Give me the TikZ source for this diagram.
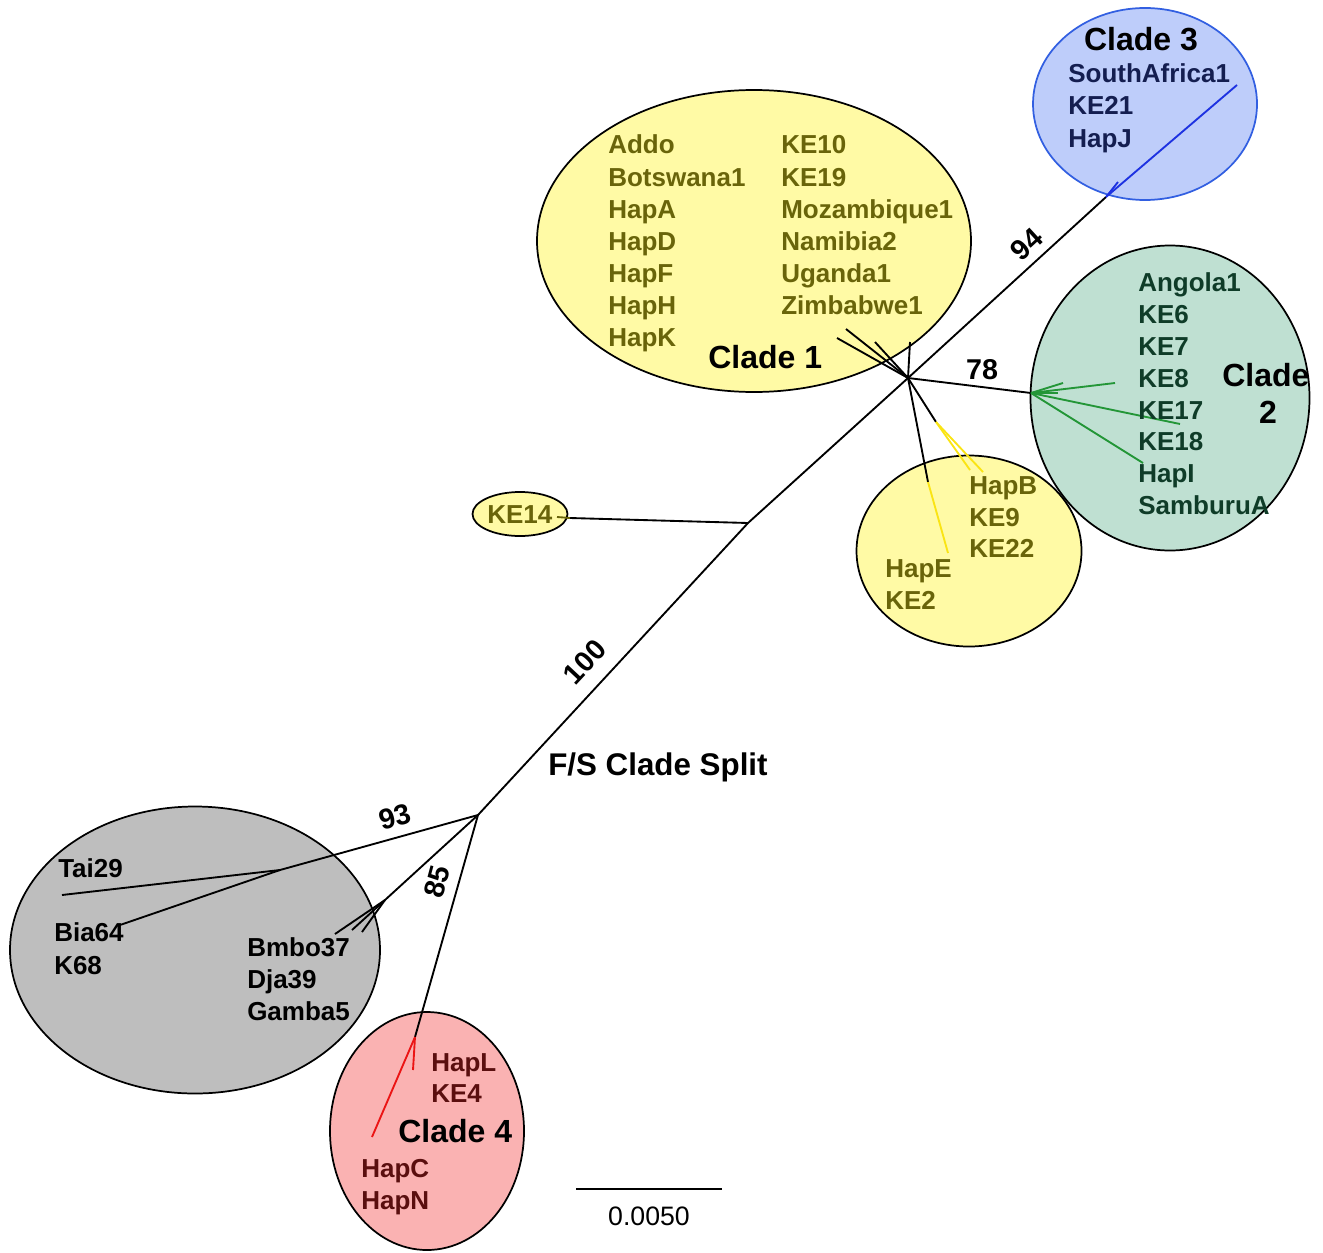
\documentclass[tikz,border=0pt]{standalone}
\usepackage{fontspec}
\setmainfont{Liberation Sans}
\usetikzlibrary{shapes.geometric}
\definecolor{yfill}{RGB}{255,250,165}
\definecolor{ytext}{RGB}{105,100,10}
\definecolor{yline}{RGB}{250,228,20}
\definecolor{gfill}{RGB}{191,224,210}
\definecolor{gtext}{RGB}{15,60,40}
\definecolor{gline}{RGB}{35,150,55}
\definecolor{bfill}{RGB}{190,205,250}
\definecolor{bdraw}{RGB}{50,95,225}
\definecolor{btext}{RGB}{20,30,80}
\definecolor{bline}{RGB}{30,50,225}
\definecolor{grfill}{RGB}{190,190,190}
\definecolor{pfill}{RGB}{250,178,178}
\definecolor{ptext}{RGB}{90,15,15}
\definecolor{pline}{RGB}{235,20,20}
\begin{document}
\begin{tikzpicture}[x=0.75pt,y=-0.75pt,
  blob/.style={ellipse,draw=black,line width=1.3pt,inner sep=0pt},
  br/.style={line width=1.4pt,black},
  cbr/.style={line width=1.4pt},
  lbl/.style={anchor=base west,inner sep=0pt,font=\fontsize{19.5}{24}\selectfont\bfseries},
  big/.style={inner sep=0pt,font=\fontsize{24}{28}\selectfont\bfseries},
  num/.style={inner sep=0pt,font=\fontsize{21.5}{24}\selectfont\bfseries}]
\useasboundingbox (0,0) rectangle (1323,1252);

% ellipses
\node[blob,fill=yfill,minimum width=434*0.75pt,minimum height=302*0.75pt] (e1) at (754,241) {};
\node[blob,fill=bfill,draw=bdraw,minimum width=224*0.75pt,minimum height=192*0.75pt] (e3) at (1145,104) {};
\node[blob,fill=gfill,minimum width=279*0.75pt,minimum height=305*0.75pt] (e2) at (1170,398) {};
\node[blob,fill=yfill,minimum width=225*0.75pt,minimum height=191*0.75pt] (e1b) at (969,551) {};
\node[blob,fill=yfill,minimum width=95*0.75pt,minimum height=44*0.75pt] (e14) at (520,514) {};
\node[blob,fill=grfill,minimum width=370*0.75pt,minimum height=287*0.75pt] (eg) at (195,950) {};
\node[blob,fill=pfill,minimum width=194*0.75pt,minimum height=238*0.75pt] (e4) at (427,1131) {};

% tree coordinates
\coordinate (fs) at (478,815);
\coordinate (k14j) at (748,523);
\coordinate (cn) at (908,378);
\coordinate (c3j) at (1106,197);
\coordinate (c3t) at (1237,85);
\coordinate (c3s) at (1118,182);
\coordinate (c2j) at (1031,393);
\coordinate (g1) at (1115,383);
\coordinate (g2) at (1063,383);
\coordinate (g3) at (1058,393);
\coordinate (g4) at (1180,424);
\coordinate (g5) at (1143,463);
\coordinate (a1) at (846,329);
\coordinate (a2) at (837,338);
\coordinate (a3) at (875,342);
\coordinate (a4) at (910,342);
\coordinate (yj1) at (936,422);
\coordinate (y1) at (970,470);
\coordinate (y2) at (983,472);
\coordinate (yj2) at (928,482);
\coordinate (y3) at (948,553);
\coordinate (k14t) at (570,518);
\coordinate (k14s) at (557,517);
\coordinate (gj) at (280,870);
\coordinate (t1) at (62,895);
\coordinate (t2) at (120,925);
\coordinate (bj) at (385,900);
\coordinate (b1) at (335,934);
\coordinate (b2) at (352,930);
\coordinate (b3) at (362,932);
\coordinate (rj) at (415,1037);
\coordinate (r1) at (372,1137);
\coordinate (r2) at (413,1070);
\coordinate (sb1) at (576,1189);
\coordinate (sb2) at (722,1189);

% black branches
\draw[br] (fs) -- (k14j) -- (cn) -- (c3j);
\draw[br] (k14j) -- (k14t);
\draw[br] (cn) -- (c2j);
\draw[br] (cn) -- (a1);
\draw[br] (cn) -- (a2);
\draw[br] (cn) -- (a3);
\draw[br] (cn) -- (a4);
\draw[br] (cn) -- (yj1);
\draw[br] (cn) -- (yj2);
\draw[br] (fs) -- (gj);
\draw[br] (gj) -- (t1);
\draw[br] (gj) -- (t2);
\draw[br] (fs) -- (bj);
\draw[br] (bj) -- (b1);
\draw[br] (bj) -- (b2);
\draw[br] (bj) -- (b3);
\draw[br] (fs) -- (rj);
% coloured branches
\draw[cbr,bline] (c3j) -- (c3t);
\draw[cbr,bline] (c3j) -- (c3s);
\draw[cbr,gline] (c2j) -- (g1);
\draw[cbr,gline] (c2j) -- (g2);
\draw[cbr,gline] (c2j) -- (g3);
\draw[cbr,gline] (c2j) -- (g4);
\draw[cbr,gline] (c2j) -- (g5);
\draw[cbr,yline] (yj1) -- (y1);
\draw[cbr,yline] (yj1) -- (y2);
\draw[cbr,yline] (yj2) -- (y3);
\draw[cbr,ytext] (k14t) -- (k14s);
\draw[cbr,pline] (rj) -- (r1);
\draw[cbr,pline] (rj) -- (r2);
\draw[line width=1.3pt] (sb1) -- (sb2);
\node[anchor=base,inner sep=0pt,font=\fontsize{20}{24}\selectfont] (sbl) at (649,1225) {0.0050};

% Clade 1 labels
\foreach \t/\y [count=\i] in {Addo/145,Botswana1/177,HapA/209,HapD/241,HapF/273,HapH/305,HapK/337}
  {\node[lbl,ytext] (c1l\i) at (608,\y+9) {\t};}
\foreach \t/\y [count=\i] in {KE10/145,KE19/177,Mozambique1/209,Namibia2/241,Uganda1/273,Zimbabwe1/305}
  {\node[lbl,ytext] (c1r\i) at (781,\y+9) {\t};}
\node[big,anchor=base west] (cl1) at (708,368) {Clade 1};
% Clade 3
\node[big,anchor=base] (cl3) at (1141,51) {Clade 3};
\foreach \t/\y [count=\i] in {SouthAfrica1/74,KE21/106,HapJ/138}
  {\node[lbl,btext] (c3l\i) at (1068,\y+9) {\t};}
% Clade 2
\foreach \t/\y [count=\i] in {Angola1/282,KE6/314,KE7/346,KE8/378,KE17/410,KE18/441,HapI/473,SamburuA/505}
  {\node[lbl,gtext] (c2l\i) at (1138,\y+9) {\t};}
\node[big,anchor=base west] (cl2a) at (1222,386) {Clade};
\node[big,anchor=base] (cl2b) at (1268,423) {2};
% lower yellow
\foreach \t/\y [count=\i] in {HapB/485,KE9/517,KE22/548}
  {\node[lbl,ytext] (ybl\i) at (969,\y+9) {\t};}
\foreach \t/\y [count=\i] in {HapE/568,KE2/600}
  {\node[lbl,ytext] (yel\i) at (885,\y+9) {\t};}
\node[lbl,ytext] (k14l) at (487,523) {KE14};
% gray
\node[lbl] (tai) at (58,877) {Tai29};
\node[lbl] (bia) at (54,941) {Bia64};
\node[lbl] (k68) at (54,974) {K68};
\foreach \t/\y [count=\i] in {Bmbo37/947,Dja39/979,Gamba5/1011}
  {\node[lbl] (gbl\i) at (247,\y+9) {\t};}
% Clade 4
\node[lbl,ptext] (hl) at (431,1071) {HapL};
\node[lbl,ptext] (ke4) at (431,1102) {KE4};
\node[big,anchor=base west] (cl4) at (398,1142) {Clade 4};
\node[lbl,ptext] (hc) at (361,1177) {HapC};
\node[lbl,ptext] (hn) at (361,1209) {HapN};
% split label and bootstrap values
\node[big,anchor=base west,font=\fontsize{23.5}{28}\selectfont\bfseries] (fsl) at (548,775) {F/S Clade Split};
\node[num,rotate=42.6] (n94) at (1027,244) {94};
\node[num] (n78) at (982,370) {78};
\node[num,rotate=47] (n100) at (585,662) {100};
\node[num,rotate=15.5] (n93) at (395,817) {93};
\node[num,rotate=75] (n85) at (437,882) {85};
\end{tikzpicture}
\end{document}
